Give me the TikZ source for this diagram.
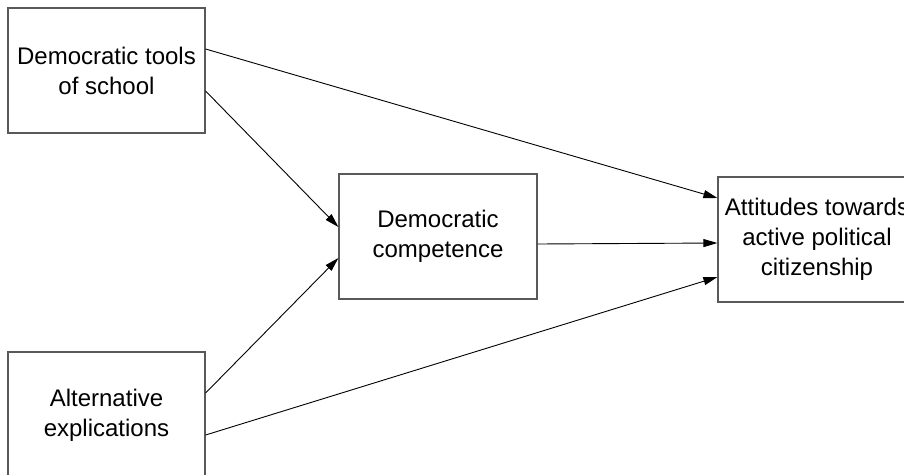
\documentclass[tikz,border=0pt]{standalone}
\usepackage{fontspec}
\setmainfont{Liberation Sans}
\usetikzlibrary{arrows.meta}
\begin{document}
\begin{tikzpicture}[x=1pt,y=-1pt,
  box/.style={draw=black!65, line width=1.2pt, minimum width=197pt,
    minimum height=125pt, inner sep=0pt, align=center,
    font=\fontsize{24}{30}\selectfont},
  link/.style={-{Triangle[length=14pt,width=8pt]}, line width=0.9pt}]
\useasboundingbox (0,0) rectangle (904,474);
\clip (0,0) rectangle (904,474);

% variables of the path model
\node[box] (tools) at (106.5,70.5) {Democratic tools\\of school};
\node[box, minimum height=126pt] (alt) at (106.5,415) {Alternative\\explications};
\node[box, minimum width=198pt] (comp) at (438,236.5) {Democratic\\competence};
\node[box, minimum width=198pt] (att) at (817,239.5) {Attitudes towards\\active political\\citizenship};

% paths
\draw[link] ([yshift=21.5pt]tools.east) -- ([yshift=41.5pt]att.west);
\draw[link] ([yshift=-20.5pt]tools.east) -- ([yshift=9.5pt]comp.west);
\draw[link] ([yshift=22pt]alt.east) -- ([yshift=-21.5pt]comp.west);
\draw[link] ([yshift=-20pt]alt.east) -- ([yshift=-37.5pt]att.west);
\draw[link] ([yshift=-7.5pt]comp.east) -- ([yshift=-3.5pt]att.west);
\end{tikzpicture}
\end{document}
